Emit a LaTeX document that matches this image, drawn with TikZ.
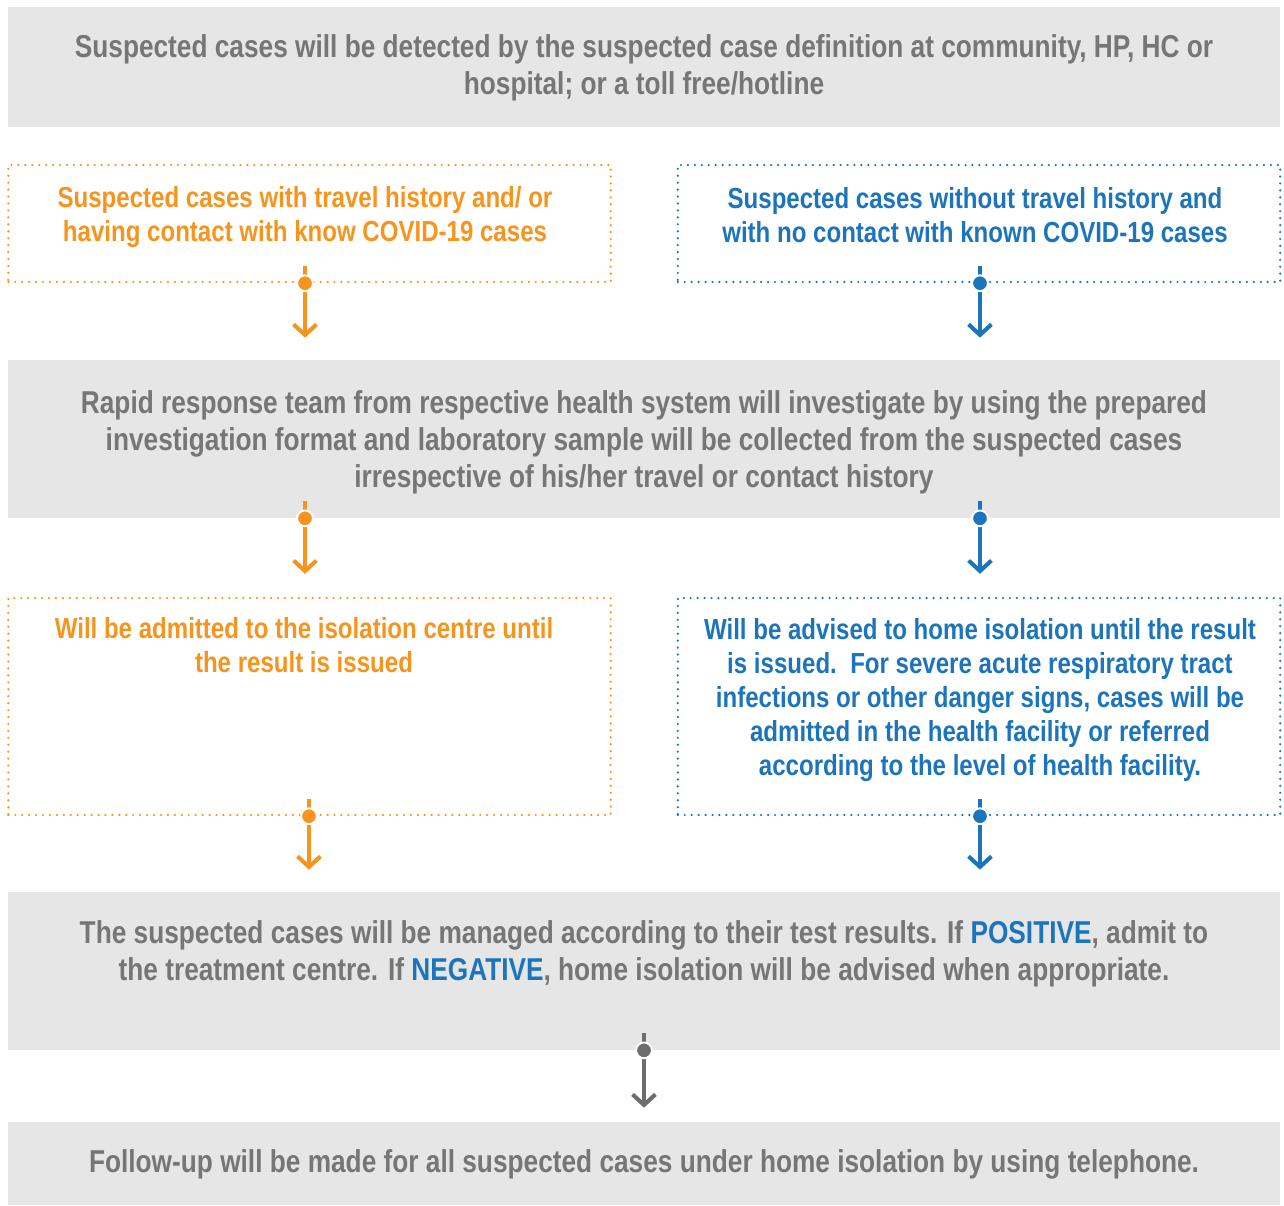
\documentclass[tikz,border=0pt]{standalone}
\usepackage{fontspec}
\setmainfont{Liberation Sans}[FakeStretch=0.83]
\usetikzlibrary{arrows.meta,calc}
\definecolor{boxgray}{HTML}{E6E6E6}
\definecolor{txtgray}{HTML}{767676}
\definecolor{orng}{HTML}{F7941D}
\definecolor{blu}{HTML}{1C75BC}
\definecolor{arrgray}{HTML}{6D6D6D}
\tikzset{
	graybox/.style={fill=boxgray, inner sep=0pt, minimum width=25.44cm},
	dotbox/.style={inner sep=0pt, line width=1.4pt, dash pattern=on 0pt off 3.95pt, line cap=round, minimum width=12.05cm},
	graytxt/.style={text=txtgray, align=center, font=\bfseries\fontsize{18}{21}\selectfont},
	coltxt/.style={align=center, font=\bfseries\fontsize{16.5}{19.3}\selectfont},
	arr/.style={line width=2.3pt, -{Straight Barb[length=6pt,width=13pt]}},
	dot/.style={circle, inner sep=0pt, minimum size=9pt, draw=white, line width=1.1pt}
}
\begin{document}
\begin{tikzpicture}[x=0.02cm, y=-0.02cm, line join=round]
	\useasboundingbox (0,0) rectangle (1284,1205);
	% boxes
	\node[graybox, minimum height=2.4cm] (g1) at (644,67) {};
	\node[dotbox, draw=orng, minimum height=2.34cm] (o1) at (309.5,223.5) {};
	\node[dotbox, draw=blu, minimum height=2.34cm] (b1) at (979,223.5) {};
	\node[graybox, minimum height=3.16cm] (g2) at (644,439) {};
	\node[dotbox, draw=orng, minimum height=4.34cm] (o2) at (309.5,706.5) {};
	\node[dotbox, draw=blu, minimum height=4.34cm] (b2) at (979,706.5) {};
	\node[graybox, minimum height=3.16cm] (g3) at (644,971) {};
	\node[graybox, minimum height=1.66cm] (g4) at (644,1163.5) {};
	% texts
	\node[graytxt] (t1) at (644,68) {Suspected cases will be detected by the suspected case definition at community, HP, HC or\\hospital; or a toll free/hotline};
	\node[coltxt, text=orng] (to1) at (305,217) {Suspected cases with travel history and/ or\\having contact with know COVID-19 cases};
	\node[coltxt, text=blu] (tb1) at (975,215) {Suspected cases without travel history and\\with no contact with known COVID-19 cases};
	\node[graytxt] (t2) at (644,442) {Rapid response team from respective health system will investigate by using the prepared\\investigation format and laboratory sample will be collected from the suspected cases\\irrespective of his/her travel or contact history};
	\node[coltxt, text=orng] (to2) at (304,645) {Will be admitted to the isolation centre until\\the result is issued};
	\node[coltxt, text=blu] (tb2) at (980,700) {Will be advised to home isolation until the result\\is issued.\ \ For severe acute respiratory tract\\infections or other danger signs, cases will be\\admitted in the health facility or referred\\according to the level of health facility.};
	\node[graytxt] (t3) at (644,954) {The suspected cases will be managed according to their test results. If {\color{blu}POSITIVE}, admit to\\the treatment centre. If {\color{blu}NEGATIVE}, home isolation will be advised when appropriate.};
	\node[graytxt] (t4) at (644,1164) {Follow-up will be made for all suspected cases under home isolation by using telephone.};
	% arrows
	\foreach \x/\a/\b/\c/\g in {305/o1/g2/orng/22, 980/b1/g2/blu/22, 305/g2/o2/orng/23, 980/g2/b2/blu/23, 309/o2/g3/orng/22, 980/b2/g3/blu/22, 644/g3/g4/arrgray/14}
	{\coordinate (s\a\x) at (\x,0 |- \a.south);
		\draw[arr, \c] ($(s\a\x)+(0,-17)$) -- ($(s\a\x |- \b.north)+(0,-\g)$);
		\node[dot, fill=\c] (d\a\x) at (s\a\x) {};}
\end{tikzpicture}
\end{document}
